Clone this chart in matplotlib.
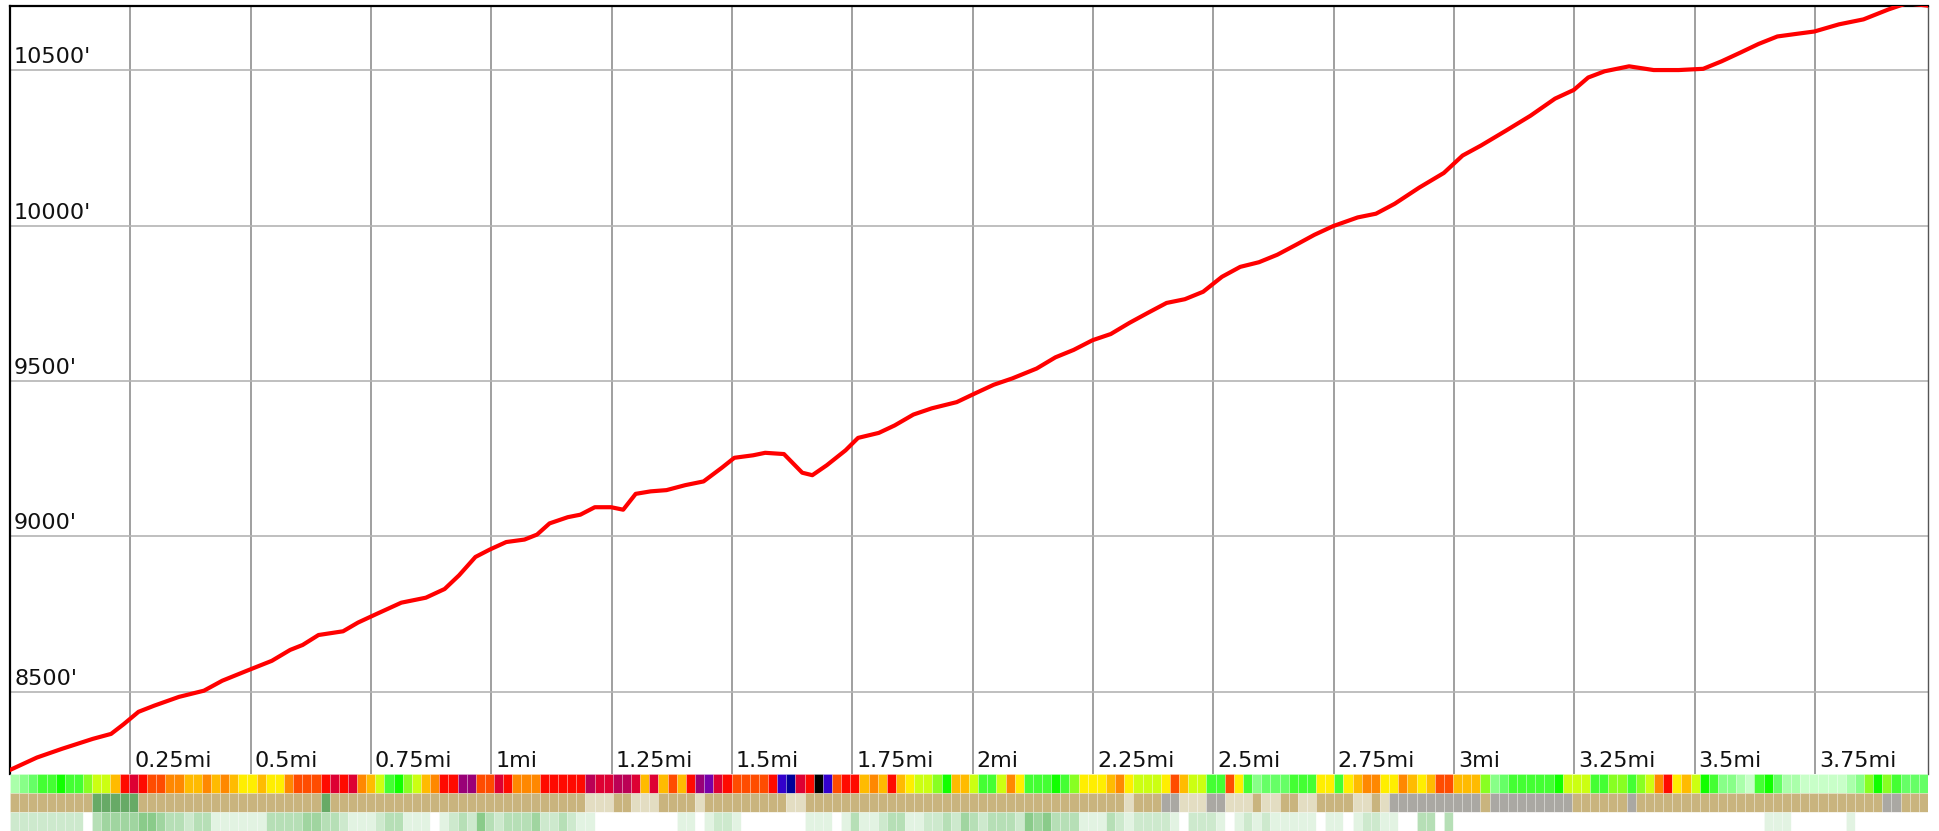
import matplotlib.pyplot as plt
import numpy as np

# elevation profile, miles vs feet
miles = [0.000, 0.056, 0.108, 0.172, 0.210, 0.236, 0.267, 0.300, 0.351, 0.403,
         0.441, 0.492, 0.544, 0.582, 0.608, 0.641, 0.692, 0.723, 0.762, 0.813,
         0.864, 0.903, 0.933, 0.967, 0.997, 1.031, 1.069, 1.095, 1.121, 1.159,
         1.185, 1.215, 1.249, 1.274, 1.300, 1.331, 1.364, 1.403, 1.441, 1.479,
         1.505, 1.544, 1.569, 1.608, 1.646, 1.667, 1.697, 1.736, 1.762, 1.805,
         1.838, 1.877, 1.915, 1.967, 2.005, 2.044, 2.082, 2.133, 2.172, 2.210,
         2.249, 2.287, 2.326, 2.364, 2.403, 2.441, 2.479, 2.518, 2.556, 2.595,
         2.633, 2.672, 2.710, 2.749, 2.800, 2.838, 2.877, 2.928, 2.979, 3.018,
         3.056, 3.108, 3.159, 3.210, 3.249, 3.279, 3.313, 3.364, 3.415, 3.467,
         3.518, 3.556, 3.595, 3.633, 3.672, 3.710, 3.749, 3.800, 3.851, 3.903,
         3.941, 3.985]
elev = [8249, 8289, 8317, 8349, 8365, 8396, 8436, 8456, 8484, 8504,
        8536, 8568, 8600, 8635, 8651, 8683, 8695, 8723, 8751, 8787,
        8803, 8831, 8875, 8934, 8958, 8982, 8990, 9006, 9042, 9062,
        9070, 9094, 9094, 9086, 9137, 9145, 9149, 9165, 9177, 9221,
        9253, 9261, 9269, 9265, 9205, 9197, 9229, 9277, 9317, 9333,
        9357, 9392, 9412, 9432, 9460, 9488, 9508, 9540, 9576, 9600,
        9631, 9651, 9687, 9719, 9751, 9763, 9787, 9835, 9867, 9882,
        9906, 9938, 9970, 9998, 10026, 10038, 10070, 10122, 10169, 10225,
        10257, 10305, 10353, 10408, 10436, 10476, 10496, 10512, 10500, 10500,
        10504, 10528, 10556, 10584, 10608, 10616, 10624, 10647, 10663, 10695,
        10715, 10707]

dist_ticks = [0.25, 0.5, 0.75, 1.0, 1.25, 1.5, 1.75, 2.0, 2.25, 2.5, 2.75, 3.0, 3.25, 3.5, 3.75]
dist_labels = ['0.25mi', '0.5mi', '0.75mi', '1mi', '1.25mi', '1.5mi', '1.75mi', '2mi',
               '2.25mi', '2.5mi', '2.75mi', '3mi', '3.25mi', '3.5mi', '3.75mi']
elev_ticks = [8500, 9000, 9500, 10000, 10500]
elev_labels = ["8500'", "9000'", "9500'", "10000'", "10500'"]

# bottom strips, one code per cell
slope_cells = ("PQLGGBGGMYYODCDRRNNOONONOEEOEENRRRD"
               "CDCNOYGBMYONDDVVRRCDNNNDDDDDSCCSSCOC"
               "ORODVICDRRRRDUKCDXURDDONODOEYYMBOOYG"
               "GYNEGGGBGMEEEONEYYYEROYYGGREGQLLLGG"
               "GEEGEONNEENOEORROOOMQLGGGGGBYYYGGMM"
               "GMYNDEOYBGQQPWGBLPPWWWWWPQMBMGLLL")
# surface strip as (code, run length)
surface_runs = [('t', 9), ('g', 5), ('t', 20), ('g', 1),
                ('t', 28), ('p', 3), ('t', 2), ('p', 3),
                ('t', 4), ('p', 1), ('t', 9), ('p', 2), ('t', 20),
                ('t', 15), ('p', 1), ('t', 3), ('r', 2), ('p', 3), ('r', 2),
                ('p', 3), ('t', 1), ('p', 2), ('t', 2), ('p', 1),
                ('p', 1), ('t', 4), ('p', 2), ('t', 1), ('p', 1), ('r', 10),
                ('t', 1), ('r', 9), ('t', 6),
                ('r', 1), ('t', 27), ('r', 2), ('t', 3)]
cover_cells = ("22222222034444554332331111113333443"
               "321112331110123253233342232110000000"
               "001101221000000011101311233112232432"
               "33325453331113212222102221012121111"
               "10110122110033030000000000000000000"
               "000000000000000111000000100000000")

slope_colors = {'W': '#c8ffc8', 'P': '#aaffaa', 'Q': '#88ff88', 'L': '#66ff66',
                'G': '#44ff33', 'B': '#11ff00', 'M': '#88ff22', 'Y': '#ccff11',
                'E': '#ffee00', 'O': '#ffbb00', 'N': '#ff8800', 'R': '#ff4c00',
                'D': '#ff0a00', 'C': '#dd0033', 'S': '#bb0055', 'V': '#990077',
                'I': '#7700aa', 'U': '#3300cc', 'K': '#000099', 'X': '#000000'}
surface_colors = {'t': '#c9b47e', 'p': '#e3ddc2', 'r': '#aaa8a3', 'g': '#67aa66'}
cover_colors = {'0': '#ffffff', '1': '#e2f3e2', '2': '#cde9cd', '3': '#b6dfb6',
                '4': '#a0d5a0', '5': '#8acb8a'}

surface_cells = ''.join(c * k for c, k in surface_runs)

W, H = 1939, 831
fig = plt.figure(figsize=(W / 100, H / 100), dpi=100)

# main profile
ax = fig.add_axes([10 / W, 57 / H, 1918 / W, 768 / H])
ax.plot(miles, elev, color='#ff0000', lw=3.0, solid_joinstyle='round',
        solid_capstyle='round', zorder=3)
ax.set_xlim(0, 3.985)
ax.set_ylim(8236, 10706)
for m in dist_ticks:
    ax.axvline(m, color='#858585', lw=1.1, zorder=1)
for e in elev_ticks:
    ax.axhline(e, color='#b4b4b4', lw=1.2, zorder=1)
ax.set_xticks([])
ax.set_yticks([])

for m, lab in zip(dist_ticks, dist_labels):
    ax.annotate(lab, xy=(m, 0), xycoords=('data', 'axes fraction'),
                xytext=(4, 7), textcoords='offset pixels',
                fontsize=16, color='#111111', va='baseline', ha='left')
for e, lab in zip(elev_ticks, elev_labels):
    ax.annotate(lab, xy=(0, e), xycoords=('axes fraction', 'data'),
                xytext=(4, 7), textcoords='offset pixels',
                fontsize=16, color='#111111', va='baseline', ha='left')

ax.spines['bottom'].set_visible(False)
ax.spines['left'].set_linewidth(1.6)
ax.spines['top'].set_linewidth(1.6)
ax.spines['right'].set_color('#555555')
ax.spines['right'].set_linewidth(1.0)

# strips underneath
ax_s = fig.add_axes([10 / W, 0, 1918 / W, 57 / H])
n = len(slope_cells)
idx = np.arange(n)
for row, (cells, pal) in enumerate([(slope_cells, slope_colors),
                                    (surface_cells, surface_colors),
                                    (cover_cells, cover_colors)]):
    cols = [pal[c] for c in cells[:n]]
    ax_s.bar(idx[:len(cols)], 1, bottom=row, width=1, align='edge', color=cols,
             edgecolor=(1, 1, 1, 0.25), linewidth=0.6)
ax_s.set_xlim(0, n)
ax_s.set_ylim(3, 0)
ax_s.axis('off')

plt.savefig('out.png', dpi=100)
